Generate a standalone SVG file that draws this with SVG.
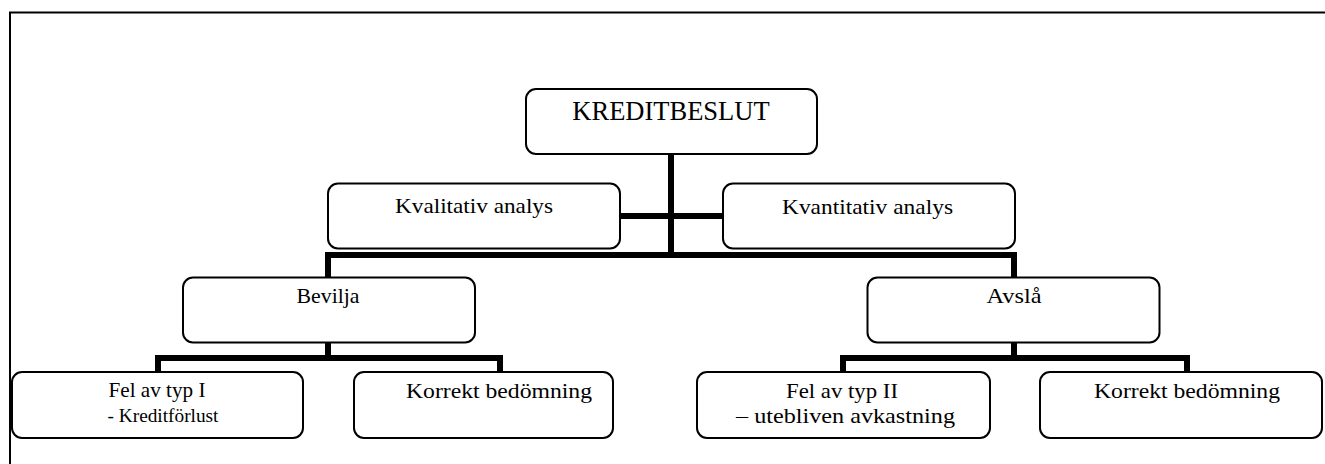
<svg xmlns="http://www.w3.org/2000/svg" width="1325" height="464" viewBox="0 0 1325 464">
<style>
.box{fill:#fff;stroke:#000;stroke-width:2}
.c{fill:none;stroke:#000;stroke-width:6;stroke-linecap:butt;stroke-linejoin:miter}
.t{font-family:"Liberation Serif","Times New Roman",serif;fill:#000;text-anchor:middle;font-size:22px}
.frame{fill:none;stroke:#000;stroke-width:2}
</style>
<rect width="1325" height="464" fill="#fff"/>
<path class="frame" d="M10 464 V12.5 H1325"/>
<g id="connectors">
<path class="c" d="M671 154 V258"/>
<path class="c" d="M620 216 H722"/>
<path class="c" d="M328 277 V255 H1014 V277"/>
<path class="c" d="M328 343 V358"/>
<path class="c" d="M158 372 V358 H500 V372"/>
<path class="c" d="M1014 343 V358"/>
<path class="c" d="M843 372 V358 H1187 V372"/>
</g>
<g id="kreditbeslut">
<rect class="box" x="526" y="89" width="291" height="65" rx="10"/>
<text class="t" x="671" y="120" style="font-size:26.5px">KREDITBESLUT</text>
</g>
<g id="kvalitativ">
<rect class="box" x="328" y="183.5" width="292" height="65" rx="10"/>
<text class="t" x="474" y="213" textLength="158" lengthAdjust="spacingAndGlyphs">Kvalitativ analys</text>
</g>
<g id="kvantitativ">
<rect class="box" x="723" y="183.5" width="292" height="65" rx="10"/>
<text class="t" x="867.5" y="214" textLength="171" lengthAdjust="spacingAndGlyphs">Kvantitativ analys</text>
</g>
<g id="bevilja">
<rect class="box" x="183" y="277.5" width="292" height="65" rx="10"/>
<text class="t" x="328" y="303" textLength="63" lengthAdjust="spacingAndGlyphs">Bevilja</text>
</g>
<g id="avsla">
<rect class="box" x="867.5" y="277.5" width="292" height="65" rx="10"/>
<text class="t" x="1014" y="302.5" textLength="55" lengthAdjust="spacingAndGlyphs">Avslå</text>
</g>
<g id="fel-typ-1">
<rect class="box" x="12" y="372" width="291" height="66" rx="10"/>
<text class="t" x="157" y="397" style="font-size:21px" textLength="97" lengthAdjust="spacingAndGlyphs">Fel av typ I</text>
<text class="t" x="163" y="422" style="font-size:19.5px" textLength="111" lengthAdjust="spacingAndGlyphs">- Kreditförlust</text>
</g>
<g id="korrekt-1">
<rect class="box" x="354" y="372" width="259" height="66" rx="10"/>
<text class="t" x="499" y="397.5" textLength="186" lengthAdjust="spacingAndGlyphs">Korrekt bedömning</text>
</g>
<g id="fel-typ-2">
<rect class="box" x="697" y="372" width="293" height="66" rx="10"/>
<text class="t" x="842" y="397.5" textLength="112" lengthAdjust="spacingAndGlyphs">Fel av typ II</text>
<text class="t" x="845.5" y="422.5" textLength="219" lengthAdjust="spacingAndGlyphs">–  utebliven avkastning</text>
</g>
<g id="korrekt-2">
<rect class="box" x="1040" y="372" width="282" height="66" rx="10"/>
<text class="t" x="1187" y="397.5" textLength="186" lengthAdjust="spacingAndGlyphs">Korrekt bedömning</text>
</g>
</svg>
